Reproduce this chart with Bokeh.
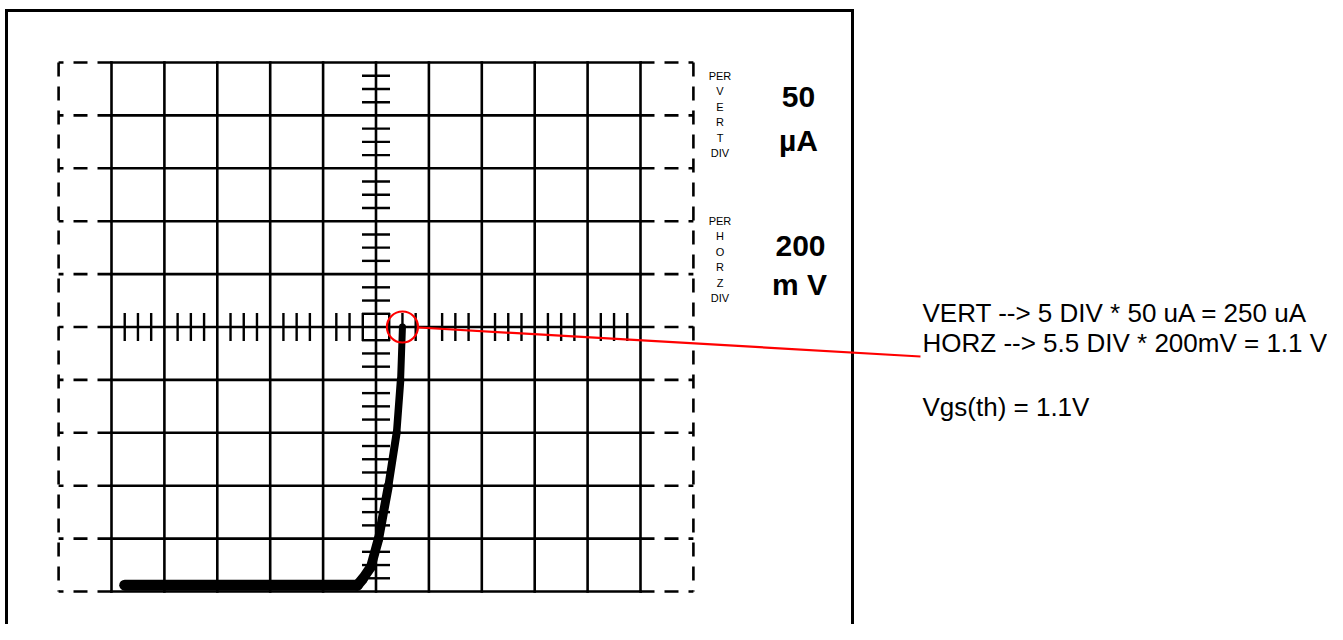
from bokeh.plotting import figure
from bokeh.models import Range1d
from bokeh.core.properties import value
from bokeh.embed import file_html
from bokeh.resources import INLINE

# ---------------- data ----------------
vgs_volts = [0.05, 0.93, 0.95, 0.98, 1.01, 1.047, 1.078, 1.093, 1.10]
id_ua = [6, 6, 12, 23, 50, 100, 150, 200, 250]
trace_widths = [11, 10.5, 10, 9.5, 9, 8, 7.5, 7]

V_PER_DIV = 0.2      # 200 mV / div
UA_PER_DIV = 50      # 50 uA / div
N_DIV = 10
MINOR_PER_DIV = 4
VGS_TH = 1.1
ID_TH = 250

per_vert = ["PER", "V", "E", "R", "T", "DIV"]
per_horz = ["PER", "H", "O", "R", "Z", "DIV"]
vert_scale = ["50", "µA"]
horz_scale = ["200", "m V"]
notes = ["VERT --> 5 DIV * 50 uA = 250 uA",
         "HORZ --> 5.5 DIV * 200mV = 1.1 V",
         "Vgs(th) = 1.1V"]

# ---------------- layout ----------------
W, H = 1327, 624
OFF = 0
X0, Y0, DIV = 111.0, 591.0, 52.9


def xv(px):
    return (px - X0) / DIV * V_PER_DIV


def yv(py):
    return (Y0 - py) / DIV * UA_PER_DIV


p = figure(width=W, height=H, output_backend="svg", toolbar_location=None,
           x_range=Range1d(xv(OFF), xv(OFF + W)),
           y_range=Range1d(yv(OFF + H), yv(OFF)),
           min_border=0, x_axis_location=None, y_axis_location=None)
p.outline_line_color = None
p.grid.visible = False
p.background_fill_color = "white"
p.border_fill_color = "white"

BLACK = "#000000"
RED = "#ff0000"
FONT = value("Liberation Sans")

# outer frame
fl, fr, ft, fb = xv(6), xv(852), yv(10), yv(700)
p.segment(x0=[fl, fl, fr], y0=[ft, ft, ft], x1=[fr, fl, fr], y1=[ft, fb, fb],
          line_color=BLACK, line_width=3, line_cap="square")

# grid
gx = [i * V_PER_DIV for i in range(N_DIV + 1)]
gy = [i * UA_PER_DIV for i in range(N_DIV + 1)]
xmax, ymax = gx[-1], gy[-1]
n = len(gx)
p.segment(x0=gx, y0=[0] * n, x1=gx, y1=[ymax] * n,
          line_color=BLACK, line_width=2.6, line_cap="square")
p.segment(x0=[0] * n, y0=gy, x1=[xmax] * n, y1=gy,
          line_color=BLACK, line_width=2.6, line_cap="square")

# dashed extensions of the screen
DASH = "14 10"
p.segment(x0=[0] * n, y0=gy, x1=[-V_PER_DIV] * n, y1=gy,
          line_color=BLACK, line_width=2.6, line_dash=DASH)
p.segment(x0=[xmax] * n, y0=gy, x1=[xmax + V_PER_DIV] * n, y1=gy,
          line_color=BLACK, line_width=2.6, line_dash=DASH)
p.segment(x0=[-V_PER_DIV, xmax + V_PER_DIV], y0=[ymax, ymax],
          x1=[-V_PER_DIV, xmax + V_PER_DIV], y1=[0, 0],
          line_color=BLACK, line_width=2.6, line_dash=DASH)

# minor ticks on center axes
cx = gx[N_DIV // 2]
cy = gy[N_DIV // 2]
tx = 14 / DIV * V_PER_DIV
ty = 14 / DIV * UA_PER_DIV
mx = [k * V_PER_DIV / MINOR_PER_DIV for k in range(N_DIV * MINOR_PER_DIV + 1) if k % MINOR_PER_DIV]
my = [k * UA_PER_DIV / MINOR_PER_DIV for k in range(N_DIV * MINOR_PER_DIV + 1) if k % MINOR_PER_DIV]
p.segment(x0=mx, y0=[cy - ty] * len(mx), x1=mx, y1=[cy + ty] * len(mx),
          line_color=BLACK, line_width=2.4)
p.segment(x0=[cx - tx] * len(my), y0=my, x1=[cx + tx] * len(my), y1=my,
          line_color=BLACK, line_width=2.4)

# trace
p.segment(x0=vgs_volts[:-1], y0=id_ua[:-1], x1=vgs_volts[1:], y1=id_ua[1:],
          line_color=BLACK, line_width=trace_widths, line_cap="round")

# highlight of threshold point
p.scatter(x=[VGS_TH], y=[ID_TH], marker="circle", size=31, fill_color=None,
          line_color=RED, line_width=2.2)
p.segment(x0=[xv(418)], y0=[yv(327)], x1=[xv(920)], y1=[yv(356)],
          line_color=RED, line_width=2.2)

# small stacked labels
sp = 15.5
p.text(x=[xv(719.5)] * len(per_vert), y=[yv(75 + i * sp) for i in range(len(per_vert))],
       text=per_vert, text_font=FONT, text_font_size="11px", text_color=BLACK,
       text_align="center", text_baseline="middle")
p.text(x=[xv(719.5)] * len(per_horz), y=[yv(220 + i * sp) for i in range(len(per_horz))],
       text=per_horz, text_font=FONT, text_font_size="11px", text_color=BLACK,
       text_align="center", text_baseline="middle")

# scale values
p.text(x=[xv(798), xv(798)], y=[yv(96), yv(140)], text=vert_scale, text_font=FONT,
       text_font_size="30px", text_font_style="bold", text_color=BLACK,
       text_align="center", text_baseline="alphabetic")
p.text(x=[xv(800), xv(799)], y=[yv(245), yv(284)], text=horz_scale, text_font=FONT,
       text_font_size="30px", text_font_style="bold", text_color=BLACK,
       text_align="center", text_baseline="alphabetic")

# notes
p.text(x=[xv(922)] * 3, y=[yv(312), yv(342), yv(406)], text=notes, text_font=FONT,
       text_font_size="26px", text_color=BLACK, text_align="left",
       text_baseline="alphabetic")

open("out.html", "w", encoding="utf-8").write(file_html(p, INLINE))
